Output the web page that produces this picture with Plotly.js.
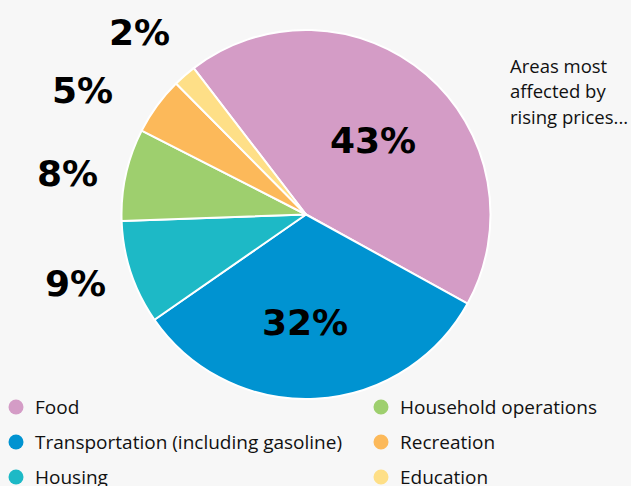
<!DOCTYPE html>
<html><head><meta charset="utf-8">
<script src="https://cdn.plot.ly/plotly-3.0.1.min.js"></script>
<style>html,body{margin:0;padding:0;background:#f7f7f7;}#chart{width:631px;height:486px;}</style>
</head><body><div id="chart"></div>
<script>
const categories = ["Food", "Transportation (including gasoline)", "Housing", "Household operations", "Recreation", "Education"];
const values = [43, 32, 9, 8, 5, 2];
const colors = ["#d49cc6", "#0093d1", "#1db9c6", "#9ecf6e", "#fcb95a", "#fedf87"];
// label placement (paper px) for each slice's percentage
const labelPos = [[373, 140], [305, 322], [75, 283], [67, 173], [82, 91], [139, 33]];
const noteLines = ["Areas most", "affected by", "rising prices..."];

const W = 631, H = 486;
const cx = 306, cy = 214.5, r = 184.5;
const px = x => x / W, py = y => 1 - y / H;

const trace = {
  type: "pie",
  labels: categories,
  values: values,
  sort: false,
  direction: "clockwise",
  rotation: -37.5,
  marker: {colors: colors, line: {color: "#ffffff", width: 2}},
  textinfo: "none",
  domain: {x: [px(cx - r), px(cx + r)], y: [py(cy + r), py(cy - r)]},
  showlegend: false,
  hoverinfo: "label+percent"
};

const annotations = [];
const shapes = [];
values.forEach((v, i) => {
  const p = labelPos[i];
  annotations.push({xref: "paper", yref: "paper", x: px(p[0]), y: py(p[1]), text: "<b>" + v + "%</b>",
    showarrow: false, xanchor: "center", yanchor: "middle",
    font: {family: "DejaVu Sans", size: 36, color: "#000000"}});
});
noteLines.forEach((t, j) => {
  annotations.push({xref: "paper", yref: "paper", x: px(508), y: py(66 + j * 25), text: t, showarrow: false,
    xanchor: "left", yanchor: "middle", font: {family: "Open Sans", size: 18.5, color: "#111111"}});
});
// legend: two columns of three
const colX = [16, 381], rowY = [407, 442, 477];
categories.forEach((c, i) => {
  const col = Math.floor(i / 3), row = i % 3;
  const x0 = colX[col], y0 = rowY[row];
  shapes.push({type: "circle", xref: "paper", yref: "paper", x0: px(x0 - 7.5), x1: px(x0 + 7.5), y0: py(y0 + 7.5), y1: py(y0 - 7.5),
    fillcolor: colors[i], line: {width: 0}});
  annotations.push({xref: "paper", yref: "paper", x: px(x0 + 17), y: py(y0), text: c, showarrow: false,
    xanchor: "left", yanchor: "middle", font: {family: "Open Sans", size: 19, color: "#111111"}});
});

const layout = {
  width: W, height: H,
  margin: {l: 0, r: 0, t: 0, b: 0},
  paper_bgcolor: "#f7f7f7", plot_bgcolor: "#f7f7f7",
  showlegend: false,
  annotations: annotations,
  shapes: shapes
};
Plotly.newPlot("chart", [trace], layout, {displayModeBar: false, staticPlot: true});
</script></body></html>
